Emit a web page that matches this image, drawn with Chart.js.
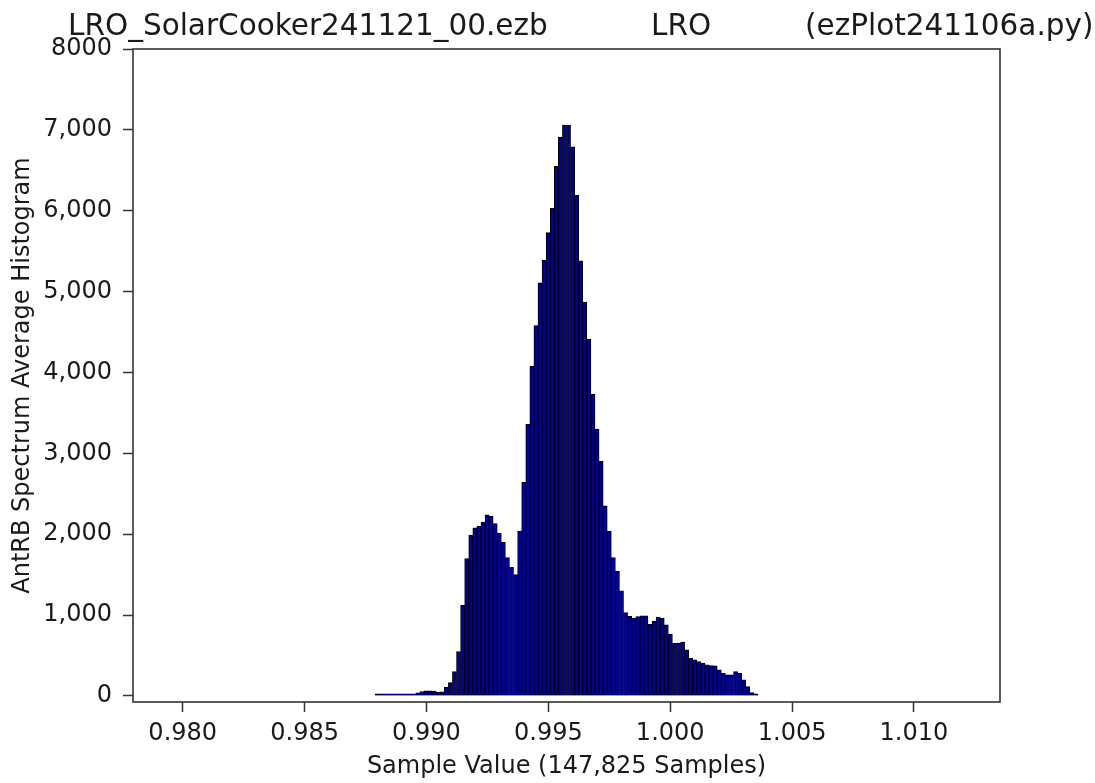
<!DOCTYPE html>
<html>
<head>
<meta charset="utf-8">
<title>AntRB Spectrum Average Histogram</title>
<script src="https://cdn.jsdelivr.net/npm/chart.js@4.4.1/dist/chart.umd.min.js"></script>
<style>
  html, body { margin: 0; padding: 0; background: #fff; }
  #wrap { width: 1095px; height: 783px; }
</style>
</head>
<body>
<div id="wrap"><canvas id="hist" width="1095" height="783"></canvas></div>
<script>
// --- data ---
const binRange = [0.98789, 1.00360];   // first bin left edge, last bin right edge
const counts = [
    2, 3, 3, 4, 5, 6, 7, 9, 12, 22, 38, 55, 62, 64, 60, 48, 50, 105, 165,
    300, 550, 1120, 1700, 1990, 2080, 2100, 2150, 2240, 2225, 2130, 2015, 1900, 1710, 1590, 1500, 2040,
    2640, 3360, 4080, 4580, 5110, 5390, 5730, 6030, 6550, 6910, 7060, 7060, 6790, 6190, 5380, 4870,
    4410, 3730, 3300, 2900, 2350, 2040, 1710, 1540, 1300,
    1030, 985, 962, 980, 990, 990, 885, 925, 975, 960, 880, 765, 650, 655, 665, 570, 467, 446,
    425, 405, 384, 375, 372, 322, 281, 262, 262, 301, 280, 198, 116, 41, 12,
];
const xTickValues = [0.980, 0.985, 0.990, 0.995, 1.000, 1.005, 1.010];
const yTickValues = [0, 1000, 2000, 3000, 4000, 5000, 6000, 7000, 8000];
const yTickLabels = ["0", "1,000", "2,000", "3,000", "4,000", "5,000", "6,000", "7,000", "8000"];
const titleParts = ["LRO_SolarCooker241121_00.ezb", "LRO", "(ezPlot241106a.py)"];
const xLabel = "Sample Value (147,825 Samples)";
const yLabel = "AntRB Spectrum Average Histogram";

// bin centres from the histogram edges
const binWidth = (binRange[1] - binRange[0]) / counts.length;
const points = counts.map((c, i) => ({ x: binRange[0] + (i + 0.5) * binWidth, y: c }));

const FONT = "'DejaVu Sans', sans-serif";
const INK = "#1a1a1a";

// matplotlib style frame on all four sides
const framePlugin = {
    id: "frame",
    afterDraw(chart) {
        const { ctx, chartArea: a } = chart;
        ctx.save();
        ctx.strokeStyle = "#333";
        ctx.lineWidth = 1.6;
        ctx.strokeRect(a.left, a.top, a.right - a.left, a.bottom - a.top);
        ctx.restore();
    },
};

// title is three separated pieces, not centred
const titlePlugin = {
    id: "splitTitle",
    afterDraw(chart) {
        const ctx = chart.ctx;
        const xs = [68, 651, 805];
        ctx.save();
        ctx.fillStyle = INK;
        ctx.font = "29.5px " + FONT;
        ctx.textBaseline = "alphabetic";
        ctx.textAlign = "left";
        titleParts.forEach((t, i) => ctx.fillText(t, xs[i], 35));
        ctx.restore();
    },
};

const tickGrid = {
    offset: false,
    drawOnChartArea: false,
    drawTicks: true,
    tickLength: 10,
    tickColor: "#333",
    tickWidth: 1.5,
};

new Chart(document.getElementById("hist"), {
    type: "bar",
    data: {
        datasets: [{
            data: points,
            backgroundColor: "#000098",
            borderColor: "#000",
            borderWidth: 1,
            barPercentage: 1,
            categoryPercentage: 1,
            minBarLength: 2,
        }],
    },
    options: {
        responsive: false,
        animation: false,
        devicePixelRatio: 1,
        layout: { padding: { top: 49, right: 95, bottom: 0, left: 0 } },
        plugins: {
            legend: { display: false },
            tooltip: { enabled: false },
        },
        scales: {
            x: {
                type: "linear",
                min: 0.97796,
                max: 1.01353,
                offset: false,
                afterFit: (s) => { s.height = 81; },
                afterBuildTicks: (s) => { s.ticks = xTickValues.map((v) => ({ value: v })); },
                grid: tickGrid,
                border: { display: false },
                ticks: {
                    padding: 7,
                    color: INK,
                    font: { family: FONT, size: 24 },
                    maxRotation: 0,
                    autoSkip: false,
                    callback: (v) => Number(v).toFixed(3),
                },
                title: {
                    display: true,
                    text: xLabel,
                    color: INK,
                    font: { family: FONT, size: 24 },
                    padding: { top: 0, bottom: 2 },
                },
            },
            y: {
                min: -75,
                max: 8000,
                afterFit: (s) => { s.width = 133; },
                afterBuildTicks: (s) => { s.ticks = yTickValues.map((v) => ({ value: v })); },
                grid: tickGrid,
                border: { display: false },
                ticks: {
                    padding: 11,
                    color: INK,
                    font: { family: FONT, size: 24 },
                    autoSkip: false,
                    callback: (v) => yTickLabels[yTickValues.indexOf(v)],
                },
                title: {
                    display: true,
                    text: yLabel,
                    color: INK,
                    font: { family: FONT, size: 24 },
                    padding: { top: 8, bottom: 0 },
                },
            },
        },
    },
    plugins: [framePlugin, titlePlugin],
});
</script>
</body>
</html>
